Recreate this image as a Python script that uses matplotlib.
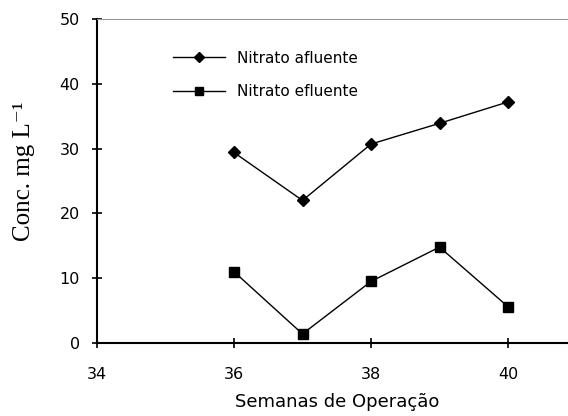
import matplotlib.pyplot as plt

semanas = [36, 37, 38, 39, 40]
afluente = [29.4, 22.0, 30.7, 33.9, 37.2]
efluente = [11.0, 1.4, 9.5, 14.8, 5.6]

fig = plt.figure(figsize=(5.68, 4.16), dpi=100)
ax = fig.add_axes([97 / 568, (416 - 343) / 416, (576.5 - 97) / 568, (343 - 19) / 416])

ax.plot(semanas, afluente, color="black", lw=1, marker="D", ms=6.5, label="Nitrato afluente")
ax.plot(semanas, efluente, color="black", lw=1, marker="s", ms=7, label="Nitrato efluente")

ax.set_xlim(34, 41)
ax.set_ylim(0, 50)
ax.set_xticks([34, 36, 38, 40])
ax.set_yticks([0, 10, 20, 30, 40, 50])

ax.spines["right"].set_visible(False)
ax.spines["top"].set_color("#999999")
ax.spines["left"].set_linewidth(1.5)
ax.spines["bottom"].set_linewidth(1.5)
ax.tick_params(direction="inout", length=7, width=1.2, labelsize=11.5)
ax.tick_params(axis="x", pad=14)
ax.tick_params(axis="y", pad=9)

ax.set_xlabel("Semanas de Operação", fontsize=13, labelpad=8)
ax.set_ylabel("Conc. mg L⁻¹", fontsize=18, family=["Liberation Serif", "DejaVu Serif"])
ax.yaxis.set_label_coords(-0.13, 0.53)

ax.legend(loc="upper left", bbox_to_anchor=(0.13, 0.945), frameon=False,
          prop={"size": 11}, handlelength=3.4, markerscale=0.85,
          labelspacing=1.2, handletextpad=0.8)

fig.savefig("out.png")
